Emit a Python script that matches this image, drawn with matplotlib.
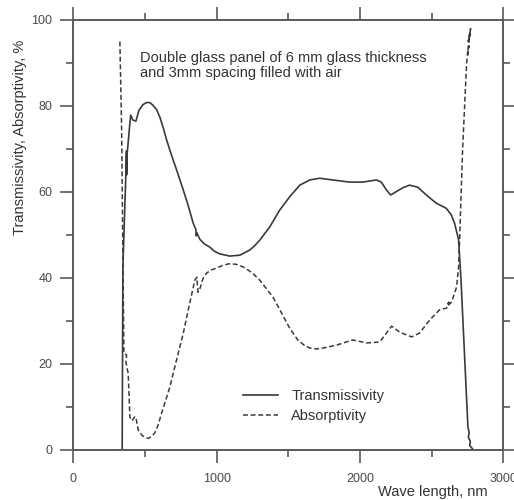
import numpy as np
import matplotlib.pyplot as plt
from matplotlib.ticker import MultipleLocator

# 透過率（実線）
trans_x = [311, 341, 346, 367, 371, 372, 376, 400, 416, 437, 458, 485, 511, 533, 555, 580,
           604, 627, 651, 685, 721, 756, 790, 815, 836, 855, 858, 862, 883, 915, 952, 985,
           1022, 1092, 1162, 1231, 1265, 1301, 1371, 1440, 1510, 1580, 1650, 1719, 1810,
           1928, 2019, 2114, 2149, 2184, 2214, 2254, 2300, 2346, 2404, 2463, 2532, 2602,
           2637, 2660, 2683, 2688, 2705, 2753, 2762, 2756, 2770, 2765, 2780, 2790]
trans_y = [0, 0, 42.6, 64.4, 69.5, 64.0, 69.0, 77.9, 76.7, 76.5, 79.0, 80.3, 80.8, 80.8,
           80.2, 79.2, 77.4, 75.0, 72.1, 68.6, 65.1, 61.6, 58.1, 55.3, 52.8, 51.3, 49.8,
           50.5, 49.0, 47.9, 47.2, 46.2, 45.6, 45.1, 45.3, 46.5, 47.5, 48.8, 51.9, 55.8,
           58.9, 61.6, 62.8, 63.2, 62.8, 62.3, 62.3, 62.8, 62.3, 60.5, 59.3, 60.1, 61.0,
           61.6, 61.1, 59.3, 57.4, 56.2, 54.7, 52.7, 49.6, 48.8, 39.5, 5.4, 4.0, 3.0, 2.0,
           1.0, 0.5, 0]

# 吸収率（破線）
abs_x = [325, 337, 353, 372, 367, 378, 383, 395, 410, 430, 440, 453, 477, 500, 522, 545,
         569, 592, 616, 645, 674, 720, 767, 802, 848, 862, 870, 883, 905, 932, 965, 999,
         1040, 1085, 1135, 1183, 1245, 1301, 1392, 1454, 1510, 1566, 1610, 1650, 1700,
         1740, 1838, 1949, 2047, 2137, 2221, 2277, 2360, 2416, 2486, 2555, 2604, 2620,
         2610, 2639, 2674, 2688, 2695, 2716, 2744, 2760, 2750, 2768, 2755, 2772, 2762, 2778]
abs_y = [95.0, 75.0, 22.5, 22.1, 20.5, 18.6, 17.8, 7.6, 6.8, 7.8, 7.0, 4.7, 3.5, 2.9,
         2.7, 3.1, 4.0, 5.8, 8.6, 11.6, 14.7, 20.9, 27.1, 32.6, 39.5, 40.2, 36.7, 37.5,
         39.9, 41.2, 41.9, 42.3, 42.9, 43.3, 43.2, 42.6, 41.3, 39.5, 35.6, 31.8, 28.3,
         25.6, 24.4, 23.7, 23.5, 23.7, 24.4, 25.6, 24.9, 25.1, 28.8, 27.4, 26.3, 27.2,
         30.2, 32.6, 33.0, 34.4, 33.5, 34.4, 37.9, 42.6, 48.8, 69.8, 90.0, 94.0, 92.0,
         97.0, 95.0, 98.0, 96.0, 97.0]

x_ticks = [0, 1000, 2000, 3000]
y_ticks = [0, 20, 40, 60, 80, 100]

plt.rcParams['font.family'] = 'Liberation Sans'

fig = plt.figure(figsize=(5.14, 5.0), dpi=100)
ax = fig.add_axes([0.1426, 0.1, 0.8366, 0.86])

ax.plot(trans_x, trans_y, color='#3a3a3a', lw=1.2, label='Transmissivity')
ax.plot(abs_x, abs_y, color='#3a3a3a', lw=1.1, linestyle=(0, (3.2, 1.8)),
        label='Absorptivity')

ax.set_xlim(0, 3000)
ax.set_ylim(0, 100)
ax.set_xticks(x_ticks)
ax.set_yticks(y_ticks)
ax.xaxis.set_minor_locator(MultipleLocator(500))
ax.yaxis.set_minor_locator(MultipleLocator(10))

for s in ax.spines.values():
    s.set_color('#5a5a5a')
    s.set_linewidth(1.4)

ax.tick_params(which='both', direction='out', top=True, right=True,
               color='#5a5a5a', width=1.2, labelcolor='#4a4a4a', labelsize=9)
ax.tick_params(which='major', length=9.5)
ax.tick_params(which='minor', length=5)
ax.tick_params(axis='y', pad=5.5)
ax.tick_params(axis='x', pad=7)

ax.text(465, 89.4, 'Double glass panel of 6 mm glass thickness\nand 3mm spacing filled with air',
        fontsize=10.5, color='#333333', va='center', ha='left', linespacing=1.05)

ax.legend(loc='upper left', bbox_to_anchor=(0.395, 0.142), frameon=False,
          fontsize=10.5, handlelength=2.4, handletextpad=0.9, labelspacing=0.4,
          borderpad=0, borderaxespad=0, labelcolor='#333333')

fig.text(0.039, 0.726, 'Transmissivity, Absorptivity, %', rotation=90,
         ha='center', va='center', fontsize=10.5, color='#333333')
fig.text(0.842, 0.016, 'Wave length, nm', ha='center', va='center',
         fontsize=10.5, color='#333333')

fig.savefig('out.png', dpi=100)
plt.close()
